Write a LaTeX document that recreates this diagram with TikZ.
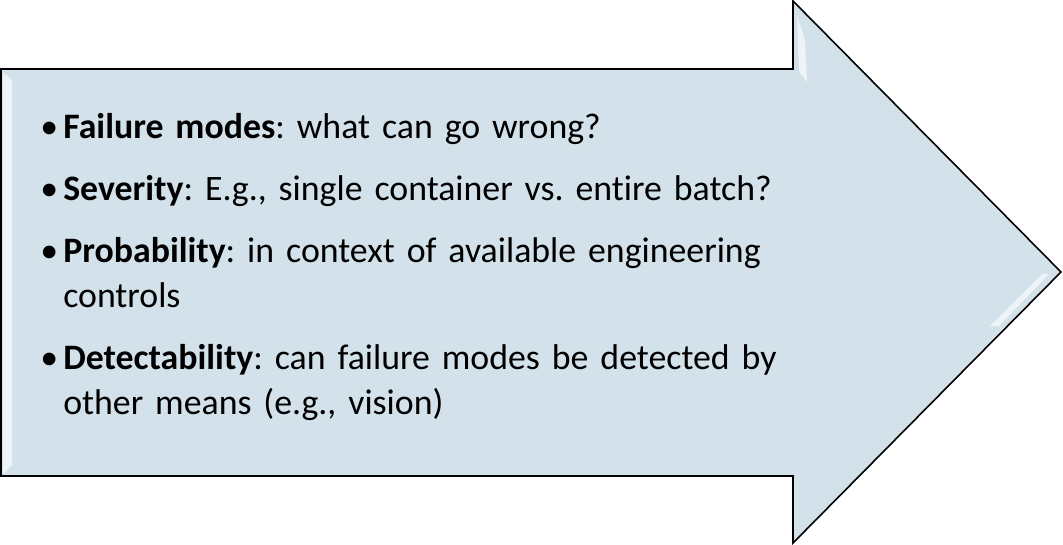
\documentclass[tikz,border=0pt]{standalone}
\usepackage{fontspec}
\setmainfont{Carlito}[Ligatures={NoCommon,NoContextual}]
\usepackage{tikz}
\usetikzlibrary{positioning}

\definecolor{arrowfill}{HTML}{D3E2EA}
\definecolor{bevel}{HTML}{F4F9FB}

\newcommand{\bitem}[2]{\noindent\hangindent=23pt\hangafter=1\makebox[23pt][l]{\textbullet}\textbf{#1}: #2\par}

\begin{document}
\begin{tikzpicture}[x=1pt,y=-1pt,line join=miter,semithick]
\tikzstyle{every item}=[anchor=base west,inner sep=0pt,text width=900pt,align=left,font=\fontsize{35.8}{45}\selectfont]
\useasboundingbox (0,0) rectangle (1063,544);
\coordinate (tip) at (1061,272);
\coordinate (notchtop) at (793,1);
\coordinate (notchbot) at (793,543);
% arrow body and head
\filldraw[fill=arrowfill,draw=black,line width=1.6pt]
  (1,69) -- (793,69) -- (notchtop) -- (tip) -- (notchbot) -- (793,476) -- (1,476) -- cycle;
% bevel highlights
\fill[bevel,opacity=.8] (3,72) -- (12,80) -- (12,465) -- (3,474) -- cycle;
\fill[bevel,opacity=.8] (797,16) -- (805,40) -- (807,82) -- (799,72) -- cycle;
\fill[bevel,opacity=.8] (1049,274) -- (1042,274) -- (990,326) -- (999,326) -- cycle;
% text
\node[every item] (points) at (40,138) {%
  \frenchspacing\hyphenpenalty=10000\setlength{\parskip}{17pt}%
  \bitem{Failure modes}{what can go wrong?}
  \bitem{Severity}{E.g., single container vs. entire batch?}
  \bitem{Probability}{in context of available engineering\newline controls}
  \bitem{Detectability}{can failure modes be detected by\newline other means (e.g., vision)}};
\end{tikzpicture}
\end{document}
